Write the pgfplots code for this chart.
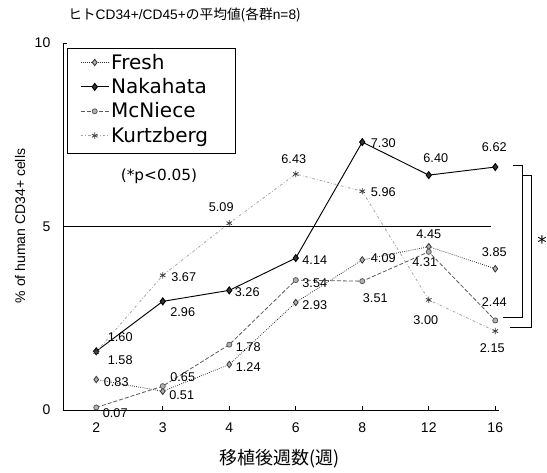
\documentclass[border=0pt]{standalone}
\usepackage{pgfplots}
\pgfplotsset{compat=1.18}
\usepackage{pgfplotstable}
\usepackage{fontspec}
\setmainfont{Liberation Sans}
\newfontfamily\cjk{Noto Sans CJK JP}
\newfontfamily\dv{DejaVu Sans}

\pgfplotstableread{
x y lab dx dy
0 0.83 0.83 20 3
1 0.51 0.51 19 4
2 1.24 1.24 19 3
3 2.93 2.93 19 3
4 4.09 4.09 21 -2
5 4.45 4.45 0 -12
6 3.85 3.85 -1 -17
}\fresh
\pgfplotstableread{
x y lab dx dy
0 1.60 1.60 24 -14
1 2.96 2.96 20 11
2 3.26 3.26 18 2
3 4.14 4.14 19 2
4 7.30 7.30 21 1
5 6.40 6.40 7 -17
6 6.62 6.62 -1 -20
}\nakahata
\pgfplotstableread{
x y lab dx dy
0 0.07 0.07 19 6
1 0.65 0.65 20 -9
2 1.78 1.78 19 2
3 3.54 3.54 19 3
4 3.51 3.51 13 17
5 4.31 4.31 -4 10
6 2.44 2.44 -1 -18
}\mcniece
\pgfplotstableread{
x y lab dx dy
0 1.58 1.58 24 8
1 3.67 3.67 21 2
2 5.09 5.09 -8 -16
3 6.43 6.43 -2 -15
4 5.96 5.96 21 1
5 3.00 3.00 -3 20
6 2.15 2.15 -3 17
}\kurtzberg

\pgfplotsset{
  lab/.style={
    point meta=explicit symbolic,
    nodes near coords,
    visualization depends on={\thisrow{dx} \as \dx},
    visualization depends on={\thisrow{dy} \as \dy},
    every node near coord/.style={anchor=center, xshift=\dx*0.75pt, yshift=-\dy*0.75pt,
      font=\fontsize{9.5}{11}\selectfont, text=black, inner sep=0pt},
  },
}

\begin{document}
\begin{tikzpicture}
\begin{axis}[
  scale only axis, width=326.7pt, height=275.25pt,
  xmin=-0.5, xmax=6.05, ymin=0, ymax=10,
  axis x line*=bottom, axis y line*=left,
  axis line style={black, line width=0.6pt},
  xtick={0,...,6}, xticklabels={2,3,4,6,8,12,16},
  ytick={0,5,10},
  tick align=inside, major tick length=3pt,
  tick style={black, line width=0.5pt},
  ticklabel style={font=\fontsize{10.5}{12}\selectfont},
  /pgf/number format/assume math mode=true,
  xticklabel style={yshift=-6pt},
  yticklabel style={xshift=-6pt},
  clip=false,
  legend style={at={(axis cs:-0.5,10)}, anchor=north west, xshift=12.75pt, yshift=-5.25pt,
    draw=none, fill=none, font=\dv\fontsize{15}{17}\selectfont, row sep=0pt, column sep=0pt,
    inner sep=0pt, nodes={inner xsep=1.5pt, inner ysep=0pt, minimum height=18.3pt}},
  legend cell align=left,
  legend image code/.code={\draw[mark repeat=2, mark phase=2, #1] plot coordinates {(0pt,0pt) (10.5pt,0pt) (21pt,0pt)};},
]
\addplot[gray!40!black, line width=0.6pt, densely dotted, mark=diamond*, mark size=2.4pt,
  mark options={solid, fill=gray!60}, lab] table[x=x, y=y, meta=lab] {\fresh};
\addlegendentry{Fresh}
\addplot[black, line width=0.7pt, mark=diamond*, mark size=2.6pt,
  mark options={solid, fill=gray!40!black}, lab] table[x=x, y=y, meta=lab] {\nakahata};
\addlegendentry{Nakahata}
\addplot[gray!70!black, line width=0.6pt, dash pattern=on 3pt off 1.5pt, mark=*, mark size=1.9pt,
  mark options={solid, fill=gray!60}, lab] table[x=x, y=y, meta=lab] {\mcniece};
\addlegendentry{McNiece}
\addplot[gray!70, line width=0.6pt, dash pattern=on 2pt off 1.5pt on 0.5pt off 1.5pt, mark=asterisk, mark size=2.4pt,
  mark options={solid, gray!50!black}, lab] table[x=x, y=y, meta=lab] {\kurtzberg};
\addlegendentry{Kurtzberg}
\addplot[black, line width=0.8pt, no marks, forget plot] coordinates {(-0.5,5) (5.94,5)};
\coordinate (bl) at (rel axis cs:0,0);
\end{axis}
\begin{scope}[shift={(bl)}, xshift=-47.25pt, yshift=307.5pt, x=0.75pt, y=-0.75pt]
  \draw[black, line width=0.6pt] (67,48) rectangle (235,153);
  \node[anchor=west, inner sep=0pt, font=\fontsize{10.3}{12}\selectfont] at (68,15) {{\cjk ヒト}CD34+/CD45+{\cjk の平均値(各群}n=8{\cjk )}};
  \node[inner sep=0pt, font=\cjk\fontsize{13.5}{15}\selectfont] at (280,459) {移植後週数(週)};
  \node[inner sep=0pt, rotate=90, font=\fontsize{10.5}{12}\selectfont] at (20,226) {\% of human CD34+ cells};
  \node[inner sep=0pt, font=\dv\fontsize{11.5}{13}\selectfont] at (159,176) {(*p<0.05)};
  \node[inner sep=0pt, font=\dv\fontsize{14}{16}\selectfont] at (542,243) {*};
  \draw[black, line width=0.7pt] (513,165) -- (522,165) -- (522,317) -- (503,317);
  \draw[black, line width=0.7pt] (523,175) -- (531,175) -- (531,327) -- (510,327);
\end{scope}
\pgfresetboundingbox
\path ([shift={(-47.25pt,-46.5pt)}]bl) rectangle ([shift={(363pt,307.5pt)}]bl);
\end{tikzpicture}
\end{document}
